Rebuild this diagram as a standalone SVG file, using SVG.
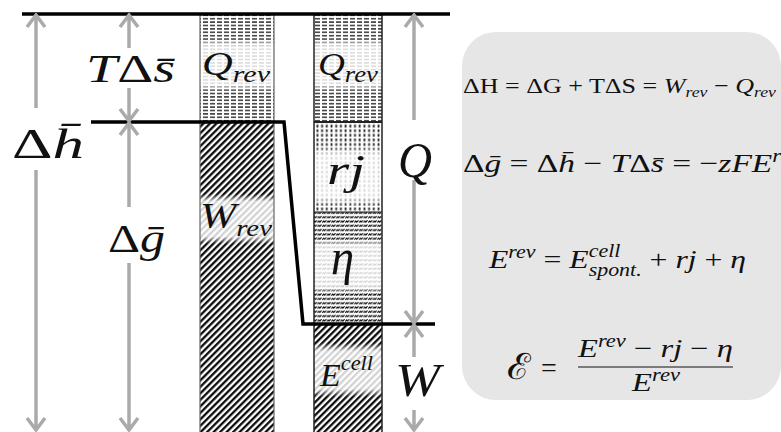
<svg xmlns="http://www.w3.org/2000/svg" width="781" height="432" viewBox="0 0 781 432">
<style>
.t{font-family:'Liberation Serif','Times New Roman',serif;fill:#111}
.i{font-style:italic}
.arr{stroke:#aaaaaa;stroke-width:3.5;fill:none}
.lvl{stroke:#000;stroke-width:3.5;fill:none}
</style>
<defs>
<marker id="ah" markerUnits="userSpaceOnUse" viewBox="-14 -11 16 22" markerWidth="16" markerHeight="22" refX="0" refY="0" orient="auto">
<path d="M-12,-9 L0,0 L-12,9" fill="none" stroke="#aaaaaa" stroke-width="3.5"/>
</marker>
<pattern id="hatch" patternUnits="userSpaceOnUse" width="4.6" height="10" patternTransform="rotate(45)">
<rect x="0" y="0" width="4.6" height="10" fill="#fff"/>
<line x1="1.2" y1="0" x2="1.2" y2="10" stroke="#000" stroke-width="2.2"/>
</pattern>
<pattern id="hdash" patternUnits="userSpaceOnUse" width="7" height="3.4">
<rect width="7" height="3.4" fill="#fff"/>
<line x1="0" y1="1.7" x2="5" y2="1.7" stroke="#000" stroke-width="1.2"/>
</pattern>
<pattern id="vdot" patternUnits="userSpaceOnUse" width="4.7" height="4.6" x="315">
<rect width="4.7" height="4.6" fill="#fff"/>
<rect x="1.5" y="0.5" width="1.8" height="2.8" fill="#222"/>
</pattern>
<pattern id="wave" patternUnits="userSpaceOnUse" width="4.6" height="4.3">
<rect width="4.6" height="4.3" fill="#fff"/>
<path d="M0.3,3.3 L1.6,1.6 L2.6,2.8 L4.2,1" fill="none" stroke="#000" stroke-width="1"/>
</pattern>
<linearGradient id="fade" x1="0" y1="0" x2="0" y2="1">
<stop offset="0" stop-color="#fff" stop-opacity="0"/>
<stop offset="0.15" stop-color="#fff" stop-opacity="0.82"/>
<stop offset="0.85" stop-color="#fff" stop-opacity="0.82"/>
<stop offset="1" stop-color="#fff" stop-opacity="0"/>
</linearGradient>
</defs>

<rect id="box" x="462" y="32" width="319" height="368" rx="34" fill="#e6e6e6"/>

<g id="col1">
<rect x="200" y="14" width="74" height="108" fill="url(#hdash)"/>
<rect x="200" y="38" width="74" height="54" fill="url(#fade)"/>
<rect x="200" y="122" width="74" height="312" fill="url(#hatch)"/>
<rect x="200" y="194" width="74" height="50" fill="url(#fade)"/>
<line x1="200" y1="14" x2="200" y2="432" stroke="#666" stroke-width="1.2"/>
<line x1="274" y1="14" x2="274" y2="432" stroke="#666" stroke-width="1.2"/>
<text class="t i" x="202" y="75" font-size="34" textLength="68" lengthAdjust="spacingAndGlyphs">Q<tspan font-size="24" dy="7">rev</tspan></text>
<text class="t i" x="200" y="228" font-size="36" textLength="72" lengthAdjust="spacingAndGlyphs">W<tspan font-size="24" dy="8">rev</tspan></text>
</g>

<g id="col2">
<rect x="314" y="14" width="68" height="108" fill="url(#hdash)"/>
<rect x="314" y="38" width="68" height="54" fill="url(#fade)"/>
<rect x="314" y="122" width="68" height="90" fill="url(#vdot)"/>
<rect x="314" y="146" width="68" height="60" fill="url(#fade)"/>
<rect x="314" y="212" width="68" height="112" fill="url(#wave)"/>
<rect x="314" y="238" width="68" height="56" fill="url(#fade)"/>
<rect x="314" y="324" width="68" height="110" fill="url(#hatch)"/>
<rect x="314" y="343" width="68" height="54" fill="url(#fade)"/>
<line x1="314" y1="122" x2="382" y2="122" stroke="#222" stroke-width="2"/>
<line x1="314" y1="212" x2="382" y2="212" stroke="#222" stroke-width="1"/>
<line x1="314" y1="14" x2="314" y2="432" stroke="#222" stroke-width="1.5"/>
<line x1="382" y1="14" x2="382" y2="432" stroke="#222" stroke-width="1.5"/>
<text class="t i" x="318" y="75" font-size="32" textLength="60" lengthAdjust="spacingAndGlyphs">Q<tspan font-size="23" dy="7">rev</tspan></text>
<text class="t i" x="327" y="184" font-size="42" textLength="38" lengthAdjust="spacingAndGlyphs">rj</text>
<text class="t i" x="331" y="274" font-size="50" textLength="23" lengthAdjust="spacingAndGlyphs">η</text>
<text class="t i" x="320" y="386" font-size="32" textLength="53" lengthAdjust="spacingAndGlyphs">E<tspan font-size="21" dy="-16">cell</tspan></text>
</g>

<g id="levels">
<line class="lvl" x1="22" y1="14" x2="450" y2="14"/>
<polyline class="lvl" points="91,122 284,122 303,324 435,324"/>
</g>

<g id="connectors">
<line class="arr" x1="36" y1="108" x2="36" y2="15" marker-end="url(#ah)"/>
<line class="arr" x1="36" y1="170" x2="36" y2="430" marker-end="url(#ah)"/>
<line class="arr" x1="129" y1="48" x2="129" y2="15" marker-end="url(#ah)"/>
<line class="arr" x1="129" y1="88" x2="129" y2="121" marker-end="url(#ah)"/>
<line class="arr" x1="129" y1="207" x2="129" y2="123" marker-end="url(#ah)"/>
<line class="arr" x1="129" y1="263" x2="129" y2="430" marker-end="url(#ah)"/>
<line class="arr" x1="414" y1="120" x2="414" y2="15" marker-end="url(#ah)"/>
<line class="arr" x1="414" y1="180" x2="414" y2="323" marker-end="url(#ah)"/>
<line class="arr" x1="414" y1="357" x2="414" y2="325" marker-end="url(#ah)"/>
<line class="arr" x1="414" y1="410" x2="414" y2="430" marker-end="url(#ah)"/>
</g>

<g id="labels">
<text class="t" x="12" y="158" font-size="42" textLength="72" lengthAdjust="spacingAndGlyphs">Δ<tspan class="i">h̄</tspan></text>
<text class="t" x="86" y="82" font-size="39" textLength="89" lengthAdjust="spacingAndGlyphs"><tspan class="i">T</tspan>Δ<tspan class="i">s̄</tspan></text>
<text class="t" x="108" y="252" font-size="40" textLength="57" lengthAdjust="spacingAndGlyphs">Δ<tspan class="i">ḡ</tspan></text>
<text class="t i" x="398" y="177" font-size="50" textLength="34" lengthAdjust="spacingAndGlyphs">Q</text>
<text class="t i" x="395" y="396" font-size="46" textLength="45" lengthAdjust="spacingAndGlyphs">W</text>
</g>

<g id="equations">
<text class="t" x="463" y="93" font-size="22" textLength="313" lengthAdjust="spacingAndGlyphs">ΔH = ΔG + TΔS = <tspan class="i">W</tspan><tspan class="i" font-size="15" dy="4">rev</tspan><tspan dy="-4"> − </tspan><tspan class="i">Q</tspan><tspan class="i" font-size="15" dy="4">rev</tspan></text>
<text class="t" x="463" y="172" font-size="26" textLength="338" lengthAdjust="spacingAndGlyphs">Δ<tspan class="i">ḡ</tspan> = Δ<tspan class="i">h̄</tspan> − <tspan class="i">T</tspan>Δ<tspan class="i">s̄</tspan> = −<tspan class="i">zFE</tspan><tspan class="i" font-size="18" dy="-10">rev</tspan></text>
<text class="t" x="489" y="268" font-size="26" textLength="257" lengthAdjust="spacingAndGlyphs"><tspan class="i">E</tspan><tspan class="i" font-size="18" dy="-10">rev</tspan><tspan dy="10"> = </tspan><tspan class="i">E</tspan><tspan class="i" font-size="18" dy="-11">cell</tspan><tspan class="i" font-size="18" dx="-26" dy="19">spont.</tspan><tspan dy="-8"> + </tspan><tspan class="i">rj</tspan> + <tspan class="i">η</tspan></text>
<text class="t" x="507" y="379" font-size="36" textLength="24" lengthAdjust="spacingAndGlyphs">ℰ</text>
<text class="t" x="541" y="377" font-size="28">=</text>
<text class="t" x="578" y="357" font-size="26" textLength="155" lengthAdjust="spacingAndGlyphs"><tspan class="i">E</tspan><tspan class="i" font-size="18" dy="-10">rev</tspan><tspan dy="10"> − </tspan><tspan class="i">rj</tspan> − <tspan class="i">η</tspan></text>
<line x1="578" y1="367" x2="733" y2="367" stroke="#111" stroke-width="1.2"/>
<text class="t" x="632" y="391" font-size="26" textLength="48" lengthAdjust="spacingAndGlyphs"><tspan class="i">E</tspan><tspan class="i" font-size="18" dy="-10">rev</tspan></text>
</g>
</svg>
